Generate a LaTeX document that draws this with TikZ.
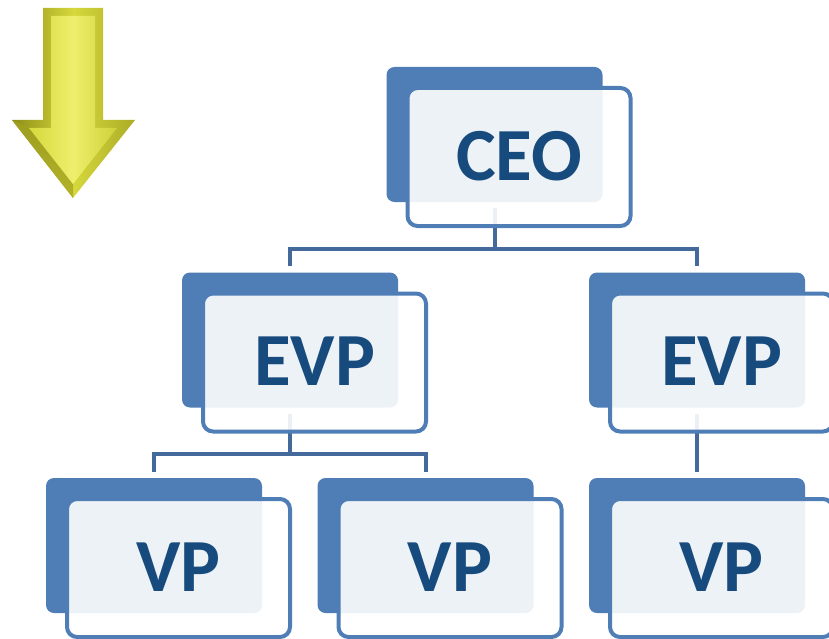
\documentclass[tikz,border=0pt]{standalone}
\usepackage{fontspec}
\setmainfont{Carlito}
\usepackage{xcolor}
\usepackage{tikz}

\definecolor{boxblue}{HTML}{4F7DB5}
\definecolor{linkblue}{HTML}{44699B}
\definecolor{titleblue}{HTML}{174B7D}
\definecolor{arrowdark}{HTML}{8F8E18}
\definecolor{arrowmid}{HTML}{D6D83C}
\definecolor{arrowlight}{HTML}{EEEF6C}

\tikzset{
	backbox/.style={fill=boxblue, rounded corners=8pt, minimum width=216pt, minimum height=135pt, inner sep=0pt},
	frontbox/.style={draw=boxblue, line width=4pt, fill=white, fill opacity=0.9, text opacity=1, rounded corners=10pt,
		minimum width=223pt, minimum height=138pt, inner sep=0pt, text=titleblue, font=\fontsize{75}{80}\selectfont\bfseries},
	link/.style={draw=linkblue, line width=4pt}
}

\begin{document}
\begin{tikzpicture}[x=1pt,y=-1pt]
	\useasboundingbox (0,0) rectangle (829,639);
	
	% yellow arrow
	\shade[left color=arrowdark, right color=arrowdark!60!arrowmid, middle color=arrowmid] (43,8) -- (103,8) -- (103,120) -- (135,120) -- (73,198) -- (12,120) -- (43,120) -- cycle;
	\shade[top color=arrowdark!80!arrowmid, bottom color=arrowdark!50!arrowmid] (12,120) -- (29,128) -- (73,184) -- (73,198) -- cycle;
	\shade[left color=arrowmid, right color=arrowmid!90!arrowdark, middle color=arrowlight] (51,16) -- (95,16) -- (95,128) -- (117,128) -- (73,184) -- (29,128) -- (51,128) -- cycle;
	
	\coordinate (topbus) at (0,249);
	\coordinate (lowbus) at (0,454);
	
	% back boxes
	\node[backbox] (ceo) at (494.5,134.5) {};
	\node[backbox] (evpl) at (290,340) {};
	\node[backbox] (evpr) at (697,340) {};
	\node[backbox] (vpa) at (154,545.5) {};
	\node[backbox] (vpb) at (425.5,545.5) {};
	\node[backbox] (vpc) at (697,545.5) {};
	
	% connectors
	\draw[link, shorten <=6pt] (ceo.south) -- (ceo.south |- topbus);
	\draw[link, shorten <=6pt, shorten >=6pt] (evpl.north) -- (evpl.north |- topbus) -- (evpr.north |- topbus) -- (evpr.north);
	\draw[link, shorten <=6pt] (evpl.south) -- (evpl.south |- lowbus);
	\draw[link, shorten <=6pt, shorten >=6pt] (vpa.north) -- (vpa.north |- lowbus) -- (vpb.north |- lowbus) -- (vpb.north);
	\draw[link, shorten <=6pt, shorten >=6pt] (evpr.south) -- (vpc.north);
	
	% front boxes
	\node[frontbox] (ceo-f) at ([shift={(24.5,22.5)}]ceo.center) {\raisebox{2pt}{CEO}};
	\node[frontbox] (evpl-f) at ([shift={(24.5,22.5)}]evpl.center) {\raisebox{2pt}{EVP}};
	\node[frontbox] (evpr-f) at ([shift={(24.5,22.5)}]evpr.center) {\raisebox{2pt}{EVP}};
	\node[frontbox] (vpa-f) at ([shift={(24.5,22.5)}]vpa.center) {\raisebox{2pt}{VP}};
	\node[frontbox] (vpb-f) at ([shift={(24.5,22.5)}]vpb.center) {\raisebox{2pt}{VP}};
	\node[frontbox] (vpc-f) at ([shift={(24.5,22.5)}]vpc.center) {\raisebox{2pt}{VP}};
\end{tikzpicture}
\end{document}
